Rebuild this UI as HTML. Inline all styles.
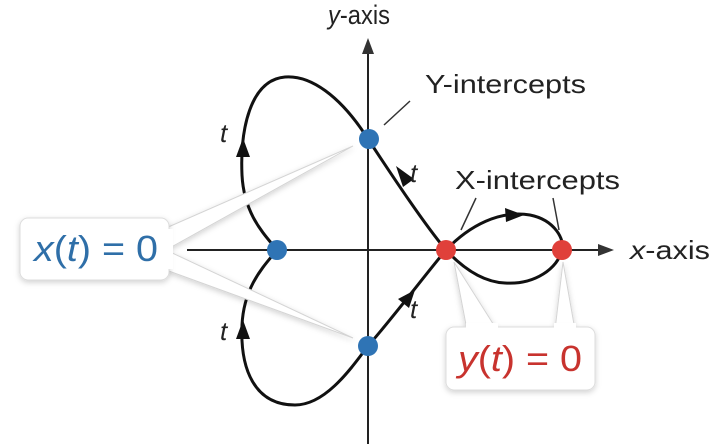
<!DOCTYPE html>
<html><head><meta charset="utf-8"><style>
html,body{margin:0;padding:0;background:#fff;}
svg{display:block;}
text{font-family:"Liberation Sans",sans-serif;}
</style></head><body>
<svg width="714" height="444" viewBox="0 0 714 444" xmlns="http://www.w3.org/2000/svg">
<defs>
<filter id="sh" x="-20%" y="-20%" width="140%" height="150%"><feDropShadow dx="0" dy="2" stdDeviation="3" flood-color="#000" flood-opacity="0.18"/></filter>
</defs>
<rect width="714" height="444" fill="#fff"/>
<!-- axes -->
<line x1="368" y1="50" x2="368" y2="444" stroke="#222" stroke-width="2"/>
<polygon points="368,38 362,54 374,54" fill="#333"/>
<line x1="187" y1="250" x2="600" y2="250" stroke="#222" stroke-width="2"/>
<polygon points="614,250 598,244 598,256" fill="#333"/>
<!-- curve -->
<path d="M368,139 C340,95 310,75 285,77 C250,80 240,130 242,175 C244,215 265,235 277,250 C265,265 244,285 242,325 C240,370 255,405 295,405 C325,405 350,370 368,346 C395,315 425,275 446,250 C470,225 500,210 530,215 C555,220 565,240 562,250 C558,268 535,285 505,283 C480,282 460,265 446,250 C425,225 395,180 368,139" fill="none" stroke="#111" stroke-width="3"/>
<!-- arrowheads -->
<polygon points="243,138 236,157 250,157" fill="#111"/>
<polygon points="243,320 236,339 250,339" fill="#111"/>
<polygon points="396,166 414,179 403,187" fill="#111"/>
<polygon points="415,290 409,308 398,299" fill="#111"/>
<polygon points="524,215 505,208 506,222" fill="#111"/>
<!-- leaders -->
<line x1="384" y1="125" x2="410" y2="101" stroke="#333" stroke-width="1.5"/>
<line x1="476" y1="198" x2="461" y2="230" stroke="#333" stroke-width="1.5"/>
<line x1="553" y1="198" x2="559" y2="230" stroke="#333" stroke-width="1.5"/>
<!-- callout wedges -->
<g filter="url(#sh)">
<polygon points="166,228 353,146 166,250" fill="#fff" stroke="#d4d4d4" stroke-width="1"/>
<polygon points="166,270 353,338 166,250" fill="#fff" stroke="#d4d4d4" stroke-width="1"/>
<polygon points="454,262 497,330 467,330" fill="#fff" stroke="#d4d4d4" stroke-width="1"/>
<polygon points="563,262 575,330 555,330" fill="#fff" stroke="#d4d4d4" stroke-width="1"/>
</g>
<!-- boxes -->
<rect x="20" y="218" width="149" height="62" rx="8" fill="#fff" stroke="#ddd" filter="url(#sh)"/>
<rect x="446" y="327" width="149" height="63" rx="8" fill="#fff" stroke="#ddd" filter="url(#sh)"/>
<rect x="165" y="229" width="8" height="40" fill="#fff"/>
<rect x="466" y="323" width="32" height="8" fill="#fff"/>
<rect x="554" y="323" width="22" height="8" fill="#fff"/>
<text x="96" y="261" text-anchor="middle" font-size="36" fill="#2f6fa8" font-family="Liberation Serif, serif" textLength="124" lengthAdjust="spacingAndGlyphs"><tspan font-style="italic">x</tspan>(<tspan font-style="italic">t</tspan>) = 0</text>
<text x="520" y="371" text-anchor="middle" font-size="36" fill="#c8332e" font-family="Liberation Serif, serif" textLength="124" lengthAdjust="spacingAndGlyphs"><tspan font-style="italic">y</tspan>(<tspan font-style="italic">t</tspan>) = 0</text>
<!-- dots -->
<circle cx="369" cy="139" r="10" fill="#2f74b5"/>
<circle cx="277" cy="250" r="10" fill="#2f74b5"/>
<circle cx="368" cy="346" r="10" fill="#2f74b5"/>
<circle cx="446" cy="250" r="10" fill="#e0403a"/>
<circle cx="562" cy="250" r="10" fill="#e0403a"/>
<!-- labels -->
<text x="328" y="24" font-size="27" fill="#222" textLength="62" lengthAdjust="spacingAndGlyphs"><tspan font-style="italic">y</tspan>-axis</text>
<text x="425" y="93" font-size="26" fill="#222" textLength="161" lengthAdjust="spacingAndGlyphs">Y-intercepts</text>
<text x="455" y="189" font-size="26" fill="#222" textLength="165" lengthAdjust="spacingAndGlyphs">X-intercepts</text>
<text x="630" y="259" font-size="26" fill="#222" textLength="80" lengthAdjust="spacingAndGlyphs"><tspan font-style="italic">x</tspan>-axis</text>
<g font-size="26" font-style="italic" fill="#222" font-family="Liberation Serif, serif">
<text x="220" y="142">t</text>
<text x="220" y="340">t</text>
<text x="410" y="182">t</text>
<text x="410" y="318">t</text>
</g>
</svg>
</body></html>
